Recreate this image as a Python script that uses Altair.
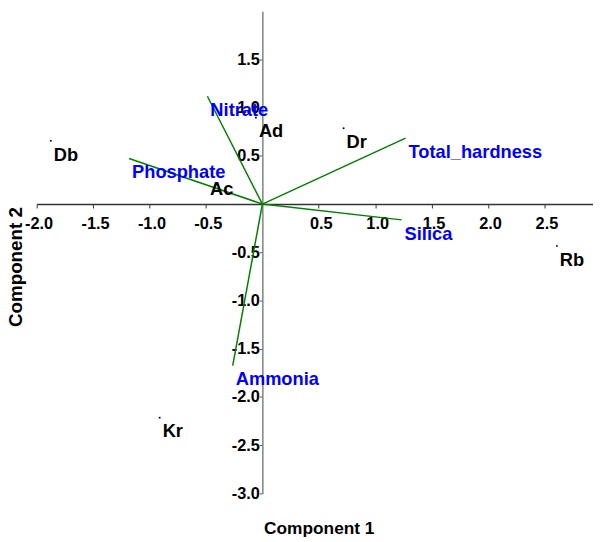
import altair as alt
import pandas as pd

# ---- data ----
sites = ["Db", "Dr", "Rb", "Kr", "Ad", "Ac"]
site_pc1 = [-1.875, 0.72, 2.61, -0.91, -0.057, -0.49]
site_pc2 = [0.656, 0.786, -0.435, -2.215, 0.895, 0.30]

variables = ["Nitrate", "Phosphate", "Total_hardness", "Silica", "Ammonia"]
load_pc1 = [-0.487, -1.181, 1.269, 1.234, -0.2625]
load_pc2 = [1.118, 0.472, 0.683, -0.164, -1.676]

x_ticks = [-2.0, -1.5, -1.0, -0.5, 0.5, 1.0, 1.5, 2.0, 2.5]
y_ticks = [-3.0, -2.5, -2.0, -1.5, -1.0, -0.5, 0.5, 1.0, 1.5]
x_title = "Component 1"
y_title = "Component 2"

X_MIN, X_MAX = -2.0, 2.93
Y_MIN, Y_MAX = -3.0, 2.0
W, H = 563, 488

FONT = "Liberation Sans, Arial, Helvetica, sans-serif"
LABEL_EXPR = "replace(datum.label, '\u2212', '-')"

sites_df = pd.DataFrame({"site": sites, "pc1": site_pc1, "pc2": site_pc2})
load_df = pd.DataFrame({"var": variables, "pc1": load_pc1, "pc2": load_pc2,
                        "o1": [0.0] * len(variables), "o2": [0.0] * len(variables)})

x0_px = W * (0 - X_MIN) / (X_MAX - X_MIN)
y0_px = H * (Y_MAX - 0) / (Y_MAX - Y_MIN)

x_scale = alt.Scale(domain=[X_MIN, X_MAX], nice=False, zero=False)
y_scale = alt.Scale(domain=[Y_MIN, Y_MAX], nice=False, zero=False)

x_axis = alt.Axis(values=x_ticks, format=".1f", labelExpr=LABEL_EXPR,
                  title=None, grid=False,
                  orient="bottom", offset=-(H - y0_px),
                  domainColor="#333333", domainWidth=1.5,
                  tickColor="#333333", tickSize=4, tickWidth=1,
                  labelFont=FONT, labelFontSize=16.5, labelFontWeight="bold",
                  labelColor="black", labelPadding=8, labelOffset=2,
                  labelFlush=False)
y_axis = alt.Axis(values=y_ticks, format=".1f", labelExpr=LABEL_EXPR,
                  title=None, grid=False,
                  orient="left", offset=-x0_px,
                  domainColor="#808080", domainWidth=1.5,
                  tickColor="#555555", tickSize=3, tickWidth=1,
                  labelFont=FONT, labelFontSize=16.5, labelFontWeight="bold",
                  labelColor="black", labelPadding=0, labelFlush=False)

X = alt.X("o1:Q", scale=x_scale, axis=x_axis)
Y = alt.Y("o2:Q", scale=y_scale, axis=y_axis)

lines = alt.Chart(load_df).mark_rule(color="#008000", strokeWidth=1.5).encode(
    x=X, y=Y, x2="pc1:Q", y2="pc2:Q")

load_labels = alt.Chart(load_df).mark_text(
    color="#0000ff", font=FONT, fontSize=18.5, fontWeight="bold",
    align="left", baseline="alphabetic", dx=3, dy=20).encode(
    x=alt.X("pc1:Q", scale=x_scale, axis=x_axis),
    y=alt.Y("pc2:Q", scale=y_scale, axis=y_axis),
    text="var:N")

pts = alt.Chart(sites_df).mark_square(color="black", size=3, opacity=1).encode(
    x=alt.X("pc1:Q", scale=x_scale, axis=x_axis),
    y=alt.Y("pc2:Q", scale=y_scale, axis=y_axis))

pt_labels = alt.Chart(sites_df).mark_text(
    color="black", font=FONT, fontSize=18.5, fontWeight="bold",
    align="left", baseline="alphabetic", dx=3, dy=20).encode(
    x=alt.X("pc1:Q", scale=x_scale, axis=x_axis),
    y=alt.Y("pc2:Q", scale=y_scale, axis=y_axis),
    text="site:N")

xt = alt.Chart(pd.DataFrame({"t": [x_title]})).mark_text(
    font=FONT, fontSize=17.5, fontWeight="bold", color="black",
    align="center", baseline="alphabetic").encode(
    x=alt.value(286), y=alt.value(529), text="t:N")

yt = alt.Chart(pd.DataFrame({"t": [y_title]})).mark_text(
    font=FONT, fontSize=19, fontWeight="bold", color="black",
    align="center", baseline="middle", angle=270).encode(
    x=alt.value(-21), y=alt.value(259), text="t:N")

chart = alt.layer(lines, load_labels, pts, pt_labels, xt, yt).properties(
    width=W, height=H,
    autosize=alt.AutoSizeParams(type="none"),
    padding={"left": 29, "top": 0, "right": 0, "bottom": 46},
).configure_view(stroke=None)

chart.save("out.html", embed_options={"renderer": "svg", "actions": False})
